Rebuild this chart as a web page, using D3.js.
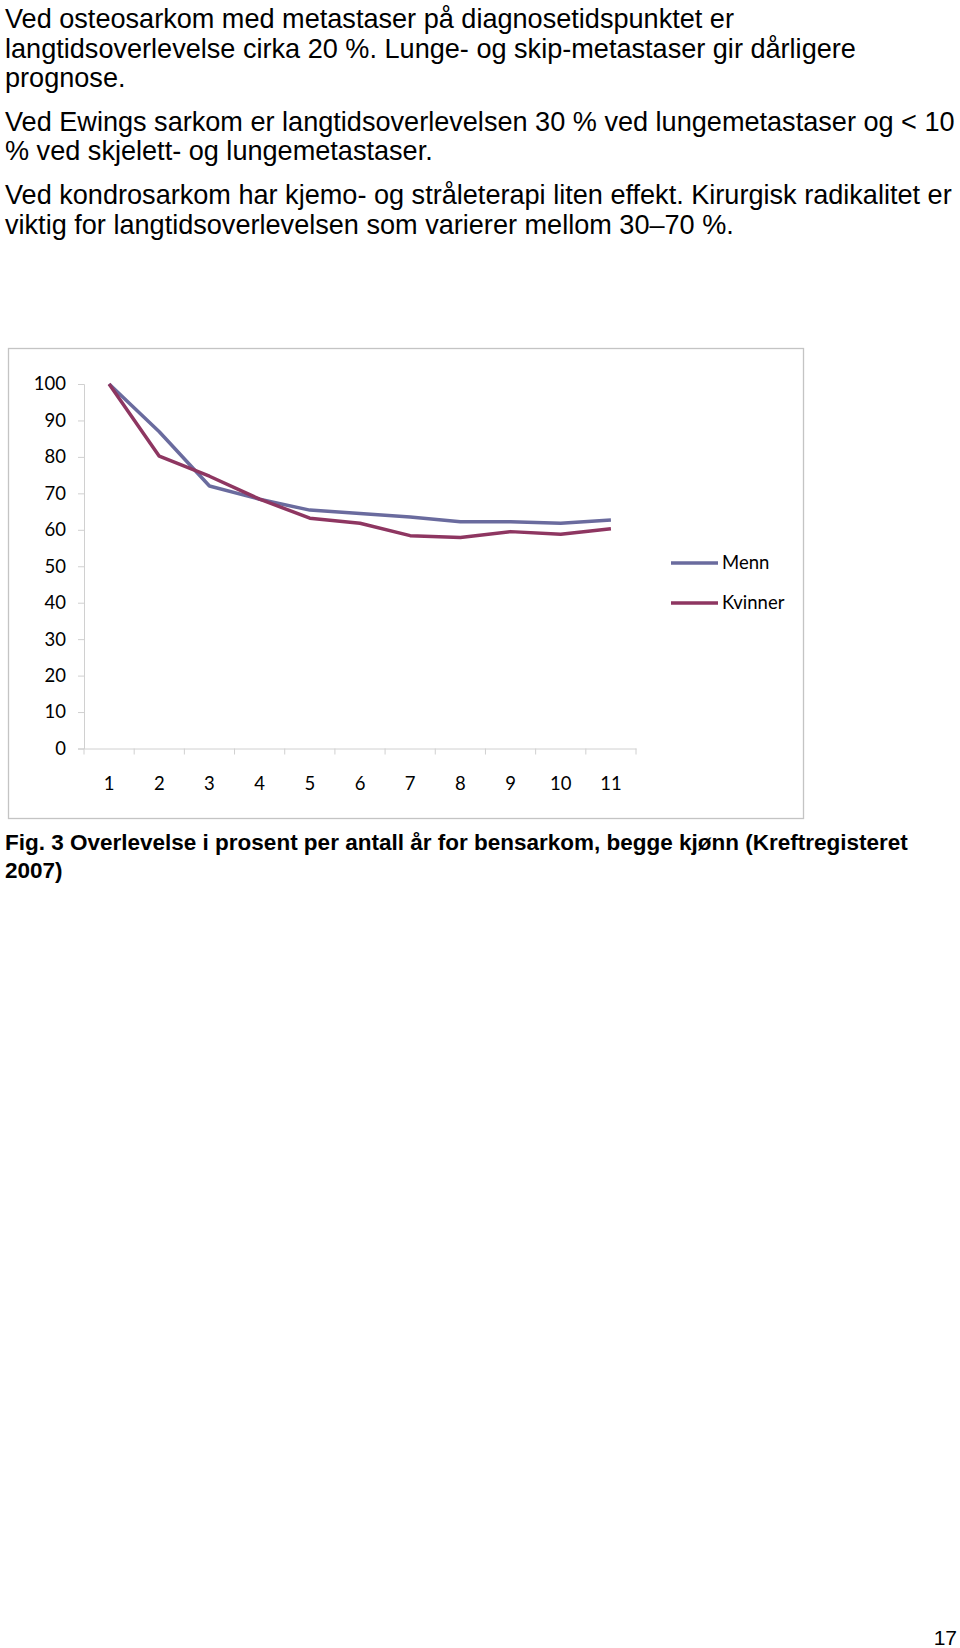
<!DOCTYPE html>
<html>
<head>
<meta charset="utf-8">
<script src="https://cdn.jsdelivr.net/npm/d3@7"></script>
<style>
  html, body { margin: 0; padding: 0; background: #fff; }
  svg { display: block; }
</style>
</head>
<body>
<svg id="page" width="960" height="1648"></svg>
<script>
// ---------- data ----------
const years = ["1","2","3","4","5","6","7","8","9","10","11"];
const menn    = [100, 86.9, 72.0, 68.4, 65.4, 64.5, 63.5, 62.2, 62.2, 61.8, 62.7];
const kvinner = [100, 80.2, 74.7, 68.4, 63.2, 61.8, 58.4, 57.9, 59.5, 58.8, 60.3];
const seriesNames = ["Menn", "Kvinner"];
const yTicks = [0, 10, 20, 30, 40, 50, 60, 70, 80, 90, 100];

const paragraphLines = [
  ["Ved osteosarkom med metastaser på diagnosetidspunktet er",
   "langtidsoverlevelse cirka 20 %. Lunge- og skip-metastaser gir dårligere",
   "prognose."],
  ["Ved Ewings sarkom er langtidsoverlevelsen 30 % ved lungemetastaser og < 10",
   "% ved skjelett- og lungemetastaser."],
  ["Ved kondrosarkom har kjemo- og stråleterapi liten effekt. Kirurgisk radikalitet er",
   "viktig for langtidsoverlevelsen som varierer mellom 30–70 %."]
];
const captionLines = [
  "Fig. 3 Overlevelse i prosent per antall år for bensarkom, begge kjønn (Kreftregisteret",
  "2007)"
];
const pageNumber = "17";

// ---------- drawing ----------
const svg = d3.select("#page");
const bodyFont = "'Liberation Sans', Arial, sans-serif";
const chartFont = "Lato, 'Open Sans', sans-serif";

// paragraphs
const baselines = [[28, 57.5, 86.5], [130.5, 160], [204, 233.5]];
paragraphLines.forEach((para, pi) => {
  para.forEach((line, li) => {
    svg.append("text")
      .attr("x", 5).attr("y", baselines[pi][li])
      .attr("font-family", bodyFont).attr("font-size", 27.1)
      .attr("fill", "#000")
      .text(line);
  });
});

// chart frame
svg.append("rect")
  .attr("x", 8.5).attr("y", 348.5).attr("width", 795).attr("height", 470)
  .attr("fill", "#fff").attr("stroke", "#c4c4c4").attr("stroke-width", 1.3);

const plot = { left: 84, right: 636, top: 384, bottom: 748.5 };

const x = d3.scaleBand().domain(years).range([plot.left, plot.right]).padding(0);
const y = d3.scaleLinear().domain([0, 100]).range([plot.bottom, plot.top]);

// y axis
const yAxis = d3.axisLeft(y).tickValues(yTicks).tickSize(6).tickPadding(12);
const gy = svg.append("g").attr("transform", `translate(${plot.left},0)`).call(yAxis);
gy.select(".domain").attr("stroke", "#d0d0d0").attr("stroke-width", 1);
gy.selectAll(".tick line").attr("stroke", "#d0d0d0");
gy.selectAll(".tick text")
  .attr("font-family", chartFont).attr("font-size", 18.5).attr("fill", "#000");

// x axis
const xAxis = d3.axisBottom(x).tickSize(0).tickPadding(28);
const gx = svg.append("g").attr("transform", `translate(0,${plot.bottom})`).call(xAxis);
gx.select(".domain").attr("stroke", "#d0d0d0").attr("stroke-width", 1);
gx.selectAll(".tick text")
  .attr("font-family", chartFont).attr("font-size", 18.5).attr("fill", "#000");
// boundary tick marks between categories
const bounds = years.map(d => x(d)).concat([x(years[years.length - 1]) + x.bandwidth()]);
gx.selectAll(".bound").data(bounds).enter().append("line")
  .attr("class", "bound")
  .attr("x1", d => d).attr("x2", d => d)
  .attr("y1", 0).attr("y2", 6)
  .attr("stroke", "#d0d0d0");

// lines
const colors = ["#6a6b9e", "#8e3661"];
const data = [menn, kvinner];
const line = d3.line()
  .x((d, i) => x(years[i]) + x.bandwidth() / 2)
  .y(d => y(d));
data.forEach((vals, si) => {
  svg.append("path")
    .datum(vals)
    .attr("d", line)
    .attr("fill", "none")
    .attr("stroke", colors[si])
    .attr("stroke-width", 3.5)
    .attr("stroke-linejoin", "round");
});

// legend
const legY = [563, 603];
seriesNames.forEach((name, i) => {
  svg.append("line")
    .attr("x1", 671).attr("x2", 718)
    .attr("y1", legY[i]).attr("y2", legY[i])
    .attr("stroke", colors[i]).attr("stroke-width", 3.5);
  svg.append("text")
    .attr("x", 722).attr("y", legY[i])
    .attr("dy", "0.35em")
    .attr("font-family", chartFont).attr("font-size", 18.5).attr("fill", "#000")
    .text(name);
});

// caption
const capBase = [850, 877.5];
captionLines.forEach((line, i) => {
  svg.append("text")
    .attr("x", 5).attr("y", capBase[i])
    .attr("font-family", bodyFont).attr("font-size", 22.5).attr("font-weight", "bold")
    .attr("fill", "#000")
    .text(line);
});

// page number
svg.append("text")
  .attr("x", 957).attr("y", 1645)
  .attr("text-anchor", "end")
  .attr("font-family", bodyFont).attr("font-size", 21).attr("fill", "#000")
  .text(pageNumber);
</script>
</body>
</html>
